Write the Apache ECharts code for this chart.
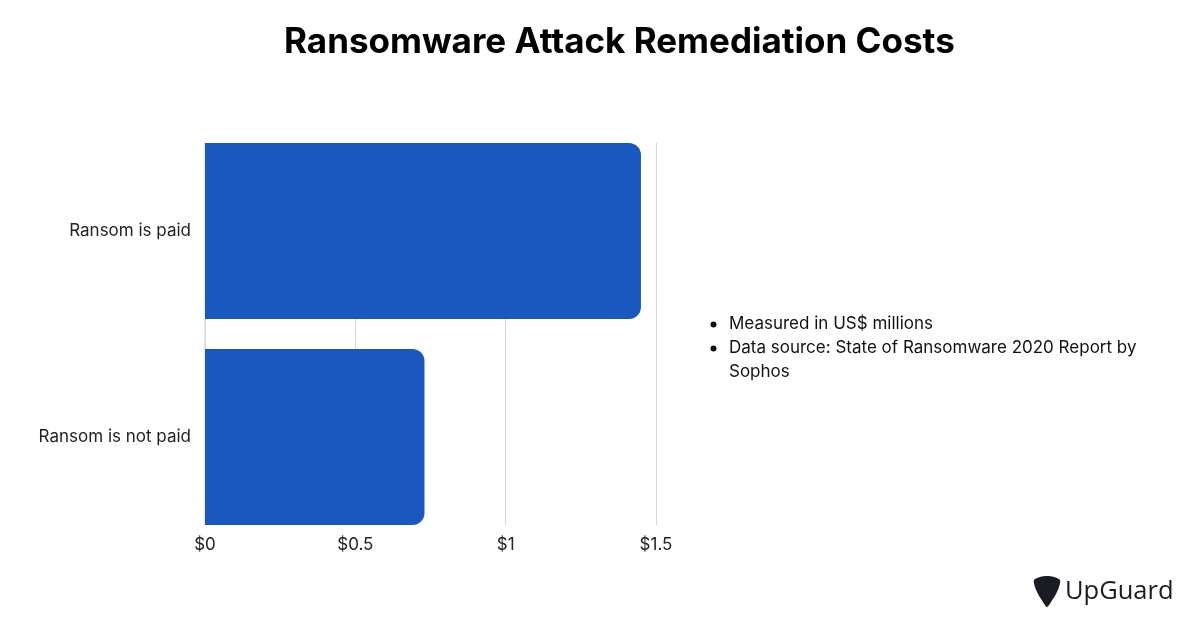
<!DOCTYPE html>
<html>
<head>
<meta charset="utf-8">
<script src="https://cdn.jsdelivr.net/npm/echarts@6/dist/echarts.min.js"></script>
<style>
  html, body { margin: 0; padding: 0; background: #fff; }
  #chart { width: 1200px; height: 628px; }
</style>
</head>
<body>
<div id="chart"></div>
<script>
(function() {
	'use strict';

	var categories = ['Ransom is paid', 'Ransom is not paid'];
	var costs = [1.45, 0.73];
	var xTicks = [0, 0.5, 1, 1.5];
	var notes = ['Measured in US$ millions', 'Data source: State of Ransomware 2020 Report by', 'Sophos'];

	var font = 'Inter, "Noto Sans", sans-serif';
	var barColor = '#1a58c0';
	var gridColor = '#d6d6d6';

	var myChart = echarts.init(document.getElementById('chart'));

	// guitar-pick shaped logo outline
	var pick = [[0,4],[6,1],[13,0],[20,1],[26,4],[25,11],[22,18],[17,26],[13,31],[9,26],[4,18],[1,11]];
	var pickPts = pick.map(function(p) { return [1034 + p[0], 576 + p[1]]; });

	var option = {
		backgroundColor : '#ffffff',
		animation : false,
		title : {
			text : 'Ransomware Attack Remediation Costs',
			left : 279,
			top : 20,
			textStyle : {
				fontFamily : font,
				fontWeight : 'bold',
				fontSize : 35,
				color : '#000'
			}
		},
		// grid 0 draws the gridlines and tick labels, grid 1 holds the bars
		grid : [ {
			left : 205,
			right : 544,
			top : 143,
			bottom : 103
		}, {
			left : 205,
			right : 544,
			top : 128,
			bottom : 88
		} ],
		xAxis : [ {
			gridIndex : 0,
			type : 'value',
			min : xTicks[0],
			max : xTicks[xTicks.length - 1],
			interval : 0.5,
			axisLine : { show : false },
			axisTick : { show : false },
			splitLine : { lineStyle : { color : gridColor, width : 1 } },
			axisLabel : {
				margin : 11,
				fontFamily : font,
				fontSize : 17,
				color : '#222',
				formatter : function(v) { return '$' + v; }
			}
		}, {
			gridIndex : 1,
			type : 'value',
			min : xTicks[0],
			max : xTicks[xTicks.length - 1],
			show : false
		} ],
		yAxis : [ {
			gridIndex : 0,
			type : 'category',
			data : categories,
			show : false
		}, {
			gridIndex : 1,
			type : 'category',
			data : categories,
			inverse : true,
			axisLine : { show : false },
			axisTick : { show : false },
			axisLabel : {
				margin : 14,
				fontFamily : font,
				fontSize : 17,
				color : '#222'
			}
		} ],
		series : [ {
			type : 'bar',
			xAxisIndex : 1,
			yAxisIndex : 1,
			data : costs,
			barWidth : 176,
			itemStyle : {
				color : barColor,
				borderRadius : [ 0, 12, 12, 0 ]
			}
		} ],
		graphic : [ {
			type : 'line',
			shape : { x1 : 205, y1 : 143, x2 : 205, y2 : 525 },
			style : { stroke : gridColor, lineWidth : 1 },
			z : -1
		}, {
			type : 'circle',
			shape : { cx : 713.5, cy : 324.5, r : 3 },
			style : { fill : '#111' }
		}, {
			type : 'circle',
			shape : { cx : 713.5, cy : 348.5, r : 3 },
			style : { fill : '#111' }
		}, {
			type : 'text',
			x : 729, y : 324,
			style : { text : notes[0], font : '17px ' + font, fill : '#111', verticalAlign : 'middle' }
		}, {
			type : 'text',
			x : 729, y : 348,
			style : { text : notes[1], font : '17px ' + font, fill : '#111', verticalAlign : 'middle' }
		}, {
			type : 'text',
			x : 729, y : 372,
			style : { text : notes[2], font : '17px ' + font, fill : '#111', verticalAlign : 'middle' }
		}, {
			type : 'polygon',
			shape : { points : pickPts, smooth : 0.3 },
			style : { fill : '#1b1b24' }
		}, {
			type : 'text',
			x : 1065, y : 592,
			style : { text : 'UpGuard', font : '500 25.5px "Open Sans", sans-serif', fill : '#1b1b24', verticalAlign : 'middle' }
		} ]
	};

	myChart.setOption(option);
})();
</script>
</body>
</html>
